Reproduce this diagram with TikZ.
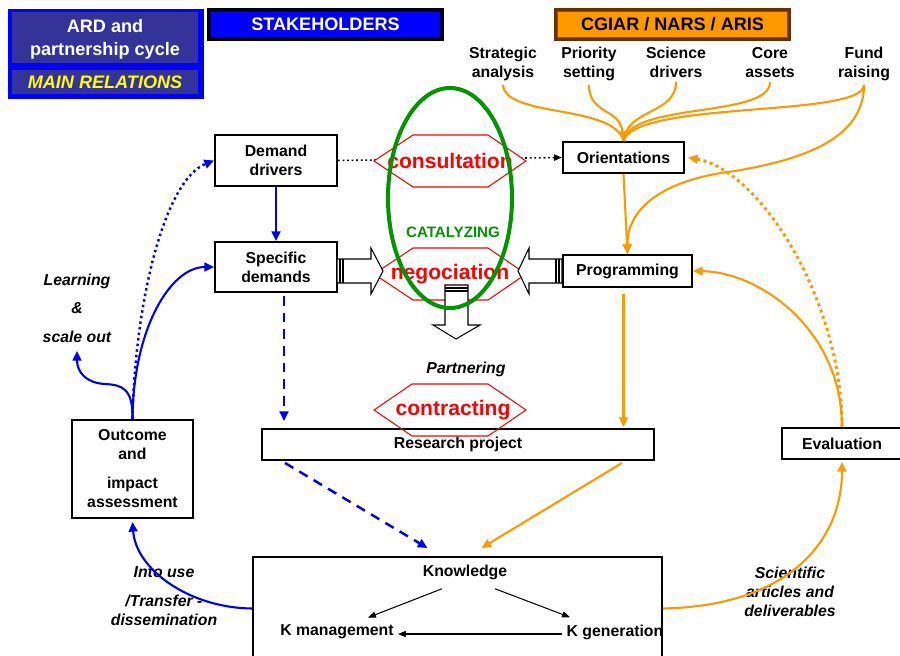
\documentclass[tikz,border=0pt]{standalone}
\usepackage{fontspec}
\setmainfont{Liberation Sans}
\usetikzlibrary{calc,positioning,arrows.meta}

\definecolor{ardblue}{RGB}{0,0,255}
\definecolor{ardnavy}{RGB}{51,51,153}
\definecolor{ardorange}{RGB}{255,153,0}
\definecolor{ardbrown}{RGB}{102,51,0}
\definecolor{ardgreen}{RGB}{0,150,0}
\definecolor{ardred}{RGB}{255,0,0}
\definecolor{ardyellow}{RGB}{255,255,0}

\begin{document}
\begin{tikzpicture}[
            x=0.02cm, y=-0.02cm,
            box/.style={draw=black, line width=1.1pt, fill=white, align=center, inner sep=0pt,
                font=\fontsize{9}{10.8}\selectfont\bfseries},
            lbl/.style={align=center, inner sep=0pt, font=\fontsize{9}{10.8}\selectfont\bfseries},
            ilbl/.style={align=center, inner sep=0pt, font=\fontsize{9}{10.8}\selectfont\bfseries\itshape},
            toplbl/.style={lbl, anchor=north},
            redtxt/.style={text=ardred, inner sep=0pt, font=\fontsize{12}{14}\selectfont\bfseries},
            hexline/.style={draw=ardred, line width=0.6pt},
            oline/.style={draw=ardorange, line width=1.2pt},
            oarrow/.style={oline, -{Triangle[length=5.5pt,width=5pt]}},
            odots/.style={oarrow, line width=1.7pt, dash pattern=on 1.7pt off 2pt},
            barrow/.style={draw=ardblue, line width=1.2pt, -{Triangle[length=5.5pt,width=5pt]}},
            bdots/.style={barrow, line width=1.4pt, dash pattern=on 1.4pt off 1.8pt},
            bdash/.style={barrow, line width=1.4pt, dash pattern=on 5.5pt off 4pt},
            karrow/.style={draw=black, line width=0.6pt, -{Triangle[length=4.5pt,width=3.5pt]}},
            bigarrow/.style={draw=black, line width=0.6pt, fill=white},
        ]
        \useasboundingbox (0,0) rectangle (900,656);
        % TOP LEFT: title panel
        \node[fill=ardblue, minimum width=3.92cm, minimum height=1.8cm, inner sep=0pt] (titlebox) at (106,54) {};
        \node[fill=ardnavy, minimum width=3.72cm, minimum height=1.02cm, inner sep=0pt, text depth=0pt,
            text=white, align=center, font=\fontsize{10.3}{13}\selectfont\bfseries] (titletop) at (105,37.5) {ARD and\\partnership cycle};
        \node[fill=ardnavy, minimum width=3.72cm, minimum height=0.5cm, inner sep=0pt,
            text=ardyellow, font=\fontsize{10.3}{12}\selectfont\bfseries\itshape] (titlebot) at (105,82) {MAIN RELATIONS};
        % header bars
        \node[fill=ardblue, draw=black, line width=1.2pt, minimum width=4.68cm, minimum height=0.6cm, inner sep=0pt,
            text=white, font=\fontsize{10.3}{12}\selectfont\bfseries] (stake) at (325.5,24.5) {STAKEHOLDERS};
        \draw[ardblue!40!black, line width=0.5pt] ($(stake.north west)+(3,3)$) rectangle ($(stake.south east)+(-3,-3)$);
        \node[fill=ardorange, draw=ardbrown, line width=1.2pt, minimum width=4.68cm, minimum height=0.6cm, inner sep=0pt,
            text=black, font=\fontsize{10.3}{12}\selectfont\bfseries] (cgiar) at (672.5,24.5) {CGIAR / NARS / ARIS};
        \draw[ardbrown!70!ardorange, line width=0.5pt] ($(cgiar.north west)+(3,3)$) rectangle ($(cgiar.south east)+(-3,-3)$);
        % CGIAR inputs
        \node[toplbl] (strat) at (503,46.3) {Strategic\\analysis};
        \node[toplbl] (prio) at (589,46.3) {Priority\\setting};
        \node[toplbl] (sci) at (676,46.3) {Science\\drivers};
        \node[toplbl] (core) at (770,47.3) {Core\\assets};
        \node[toplbl] (fund) at (864,46.3) {Fund\\raising};
        % main boxes
        \node[box, minimum width=2.44cm, minimum height=1.02cm] (dd) at (276,160.5) {Demand\\drivers};
        \node[box, minimum width=2.44cm, minimum height=1cm] (sd) at (276,267) {Specific\\demands};
        \node[box, minimum width=2.42cm, minimum height=0.62cm] (orient) at (623.5,157.5) {Orientations};
        \node[box, minimum width=2.58cm, minimum height=0.64cm] (prog) at (627.5,271) {Programming};
        \node[box, minimum width=2.4cm, minimum height=0.62cm] (eval) at (842,443.5) {Evaluation};
        \node[box, minimum width=2.42cm, minimum height=1.96cm] (outcome) at (132.5,469) {Outcome\\and\\[5.7pt]impact\\assessment};
        \node[box, minimum width=7.84cm, minimum height=0.62cm] (research) at (458,444.5) {Research project};
        \node[box, minimum width=8.18cm, minimum height=2.06cm] (knowbox) at (457.5,608.5) {};
        \node[lbl] (know) at (465,572) {Knowledge};
        \node[lbl] (kman) at (337,632) {K management};
        \node[lbl] (kgen) at (615,632) {K generation};
        % free labels
        \node[ilbl, anchor=north, font=\fontsize{9}{16.2}\selectfont\bfseries\itshape] (learn) at (77,273.3) {Learning\\\&\\scale out};
        \node[ilbl, anchor=north] (intouse) at (164,566.3) {Into use\\[5.6pt]/Transfer -\\dissemination};
        \node[ilbl, anchor=north] (sciart) at (790,566.3) {Scientific\\articles and\\deliverables};
        \node[ilbl] (partner) at (466,369) {Partnering};
        \coordinate (learntip) at (77,351);
        % orange links
        \draw[oline] ($(strat.south)+(0,4)$) .. controls (505,118) and (614,104) .. (orient.north);
        \draw[oarrow] ($(prio.south)+(0,4)$) .. controls (589,115) and (620,108) .. (orient.north);
        \draw[oline] ($(sci.south)+(0,4)$) .. controls (676,115) and (627,108) .. (orient.north);
        \draw[oline] ($(core.south)+(0,4)$) .. controls (770,118) and (630,102) .. (orient.north);
        \draw[oline] ($(fund.south)+(0,4)$) .. controls (864,118) and (636,100) .. (orient.north);
        \draw[oarrow] ($(fund.south)+(0,4)$) .. controls (864,140) and (800,160) .. (735,171)
            .. controls (660,180) and (627,210) .. (prog.north);
        \draw[oarrow] (orient.south) -- (prog.north);
        \draw[oarrow] ($(prog.south)+(-4,6)$) -- ($(prog.south |- research.north)+(-4,-1)$);
        \draw[oarrow] (eval.north) .. controls (842,330) and (760,272) .. (prog.east);
        \draw[odots] (eval.north) .. controls (842,300) and (760,170) .. ($(orient.east)+(3,0)$);
        \draw[oarrow] ($(research.south)+(164,2)$) -- ($(knowbox.north)+(24,-8)$);
        \draw[oarrow] (knowbox.east) .. controls (790,606) and (842,540) .. ($(eval.south)+(0,2)$);
        % blue links
        \draw[barrow] (dd.south) -- (sd.north);
        \draw[bdash] ($(sd.south)+(8,3)$) -- ($(sd.south |- research.north)+(8,-7)$);
        \draw[bdash] ($(research.south)+(-173,2)$) -- ($(knowbox.north)+(-30,-8)$);
        \draw[barrow] (knowbox.west) .. controls (190,608) and (136,570) .. ($(outcome.south)+(0,3)$);
        \draw[barrow] (outcome.north) .. controls (133,330) and (170,267) .. (sd.west);
        \draw[bdots] (outcome.north) .. controls (135,300) and (165,180) .. (dd.west);
        \draw[barrow] (outcome.north) .. controls (133,388) and (122,385) .. (105,384)
            .. controls (86,383) and (77,372) .. (learntip);
        % consultation link
        \draw[karrow, line width=0.9pt, dash pattern=on 1pt off 1.6pt] (dd.east) -- (orient.west);
        % knowledge cycle
        \draw[karrow] ($(know.south)+(-23,9)$) -- ($(kman.north)+(31,-7)$);
        \draw[karrow] ($(know.south)+(30,9)$) -- ($(kgen.north)+(-45,-7)$);
        \draw[karrow] ($(kgen.west)+(-4,2)$) -- ($(kman.east)+(4,2)$);
        % hexagons
        \foreach \hy/\hname/\htxt in {161/consult/consultation, 274/nego/negociation} {
            \filldraw[hexline, fill=white] (374,\hy) -- ++(39,-26) -- ++(75,0) -- ++(38,26) -- ++(-38,26) -- ++(-75,0) -- cycle;
            \node[redtxt] (\hname) at (450,\hy) {\htxt};
        }
        \draw[hexline] (374,410) -- ++(38,-26) -- ++(76,0) -- ++(38,26) -- ++(-38,26) -- ++(-76,0) -- cycle;
        \node[redtxt] (contract) at (453,410) {contracting};
        % hollow arrows into negociation
        \filldraw[bigarrow] (337,259) -- (371,259) -- (371,248) -- (383,271) -- (371,294) -- (371,283) -- (337,283) -- cycle;
        \draw[line width=0.6pt] (340,259) -- (340,283) (343,259) -- (343,283);
        \filldraw[bigarrow] (562,259) -- (529,259) -- (529,248) -- (518,271) -- (529,294) -- (529,283) -- (562,283) -- cycle;
        \draw[line width=0.6pt] (556,259) -- (556,283) (559,259) -- (559,283);
        \filldraw[bigarrow] (445,285) -- (445,325) -- (433,325) -- (456,339) -- (480,325) -- (468,325) -- (468,285) -- cycle;
        \draw[line width=0.6pt] (445,288) -- (468,288) (445,291) -- (468,291);
        % catalyzing ring
        \node[text=ardgreen, inner sep=0pt, font=\fontsize{8.6}{10}\selectfont\bfseries] (catal) at (453,232) {CATALYZING};
        \draw[ardgreen, line width=2.3pt] (450,198) ellipse [x radius=62, y radius=110];
        \end{tikzpicture}
\end{document}
